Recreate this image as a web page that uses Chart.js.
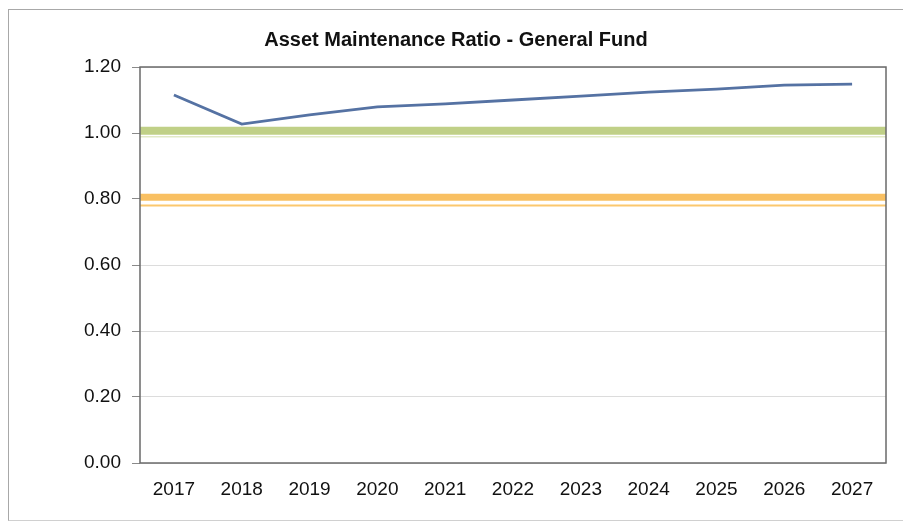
<!DOCTYPE html>
<html>
<head>
<meta charset="utf-8">
<script src="https://cdn.jsdelivr.net/npm/chart.js@4.4.1/dist/chart.umd.min.js"></script>
<style>
  html, body { margin: 0; padding: 0; background: #fff; }
  #wrap { position: relative; width: 903px; height: 523px; }
  #frame { position: absolute; left: 8px; top: 9px; width: 900px; height: 510px;
           border-left: 1.5px solid #a8a8a8; border-top: 1.5px solid #a8a8a8; border-bottom: 1px solid #d0d0d0;
           pointer-events: none; }
</style>
</head>
<body>
<div id="wrap">
  <canvas id="chart" width="903" height="523"></canvas>
  <div id="frame"></div>
</div>
<script>
// data
const years = [2017, 2018, 2019, 2020, 2021, 2022, 2023, 2024, 2025, 2026, 2027];
const ratio = [1.115, 1.027, 1.055, 1.079, 1.088, 1.100, 1.112, 1.124, 1.133, 1.145, 1.148];
const greenLevel = 1.007;
const greenShadow = 0.989;
const orangeLevel = 0.805;
const orangeShadow = 0.780;
const yTicks = [0, 0.2, 0.4, 0.6, 0.8, 1.0, 1.2];

const xMin = years[0] - 0.5;
const xMax = years[years.length - 1] + 0.5;
const flat = v => [{ x: xMin, y: v }, { x: xMax, y: v }];

// plot frame like the excel chart
const plotBorder = {
    id: 'plotBorder',
    afterDatasetsDraw(chart) {
        const a = chart.chartArea, c = chart.ctx;
        c.save();
        c.strokeStyle = '#6a6a6a';
        c.lineWidth = 1.5;
        c.strokeRect(a.left, a.top, a.right - a.left, a.bottom - a.top);
        c.restore();
    }
};

new Chart(document.getElementById('chart'), {
    type: 'line',
    data: {
        datasets: [
            { data: years.map((y, i) => ({ x: y, y: ratio[i] })), borderColor: '#5572a3', borderWidth: 2.8, pointRadius: 0, tension: 0, order: 1 },
            { data: flat(greenShadow), borderColor: '#e2e9c6', borderWidth: 1.5, pointRadius: 0, order: 3 },
            { data: flat(greenLevel), borderColor: '#c0d087', borderWidth: 8, pointRadius: 0, order: 2 },
            { data: flat(orangeShadow), borderColor: '#fbc86e', borderWidth: 2, pointRadius: 0, order: 3 },
            { data: flat(orangeLevel), borderColor: '#f9c062', borderWidth: 7, pointRadius: 0, order: 2 }
        ]
    },
    options: {
        responsive: false,
        animation: false,
        layout: { padding: { left: 26, right: 17, top: 0, bottom: 0 } },
        plugins: {
            legend: { display: false },
            tooltip: { enabled: false },
            title: {
                display: true,
                text: 'Asset Maintenance Ratio - General Fund',
                color: '#111',
                font: { family: 'Liberation Sans', size: 20, weight: 'bold' },
                padding: { top: 28, bottom: 15 }
            }
        },
        scales: {
            x: {
                type: 'linear',
                min: xMin,
                max: xMax,
                afterBuildTicks: s => { s.ticks = years.map(v => ({ value: v })); },
                afterFit: s => { s.height = 60; },
                grid: { display: false, drawTicks: false },
                border: { display: false },
                ticks: { color: '#111', font: { family: 'Liberation Sans', size: 19 }, padding: 15, maxRotation: 0, autoSkip: false, callback: v => String(v) }
            },
            y: {
                min: 0,
                max: 1.2,
                afterBuildTicks: s => { s.ticks = yTicks.map(v => ({ value: v })); },
                afterFit: s => { s.width = 114; },
                grid: { color: '#dcdcdc', lineWidth: 1, tickColor: '#8a8a8a', tickLength: 8 },
                border: { display: false },
                ticks: { color: '#111', font: { family: 'Liberation Sans', size: 19 }, padding: 11, callback: v => v.toFixed(2) }
            }
        }
    },
    plugins: [plotBorder]
});
</script>
</body>
</html>
